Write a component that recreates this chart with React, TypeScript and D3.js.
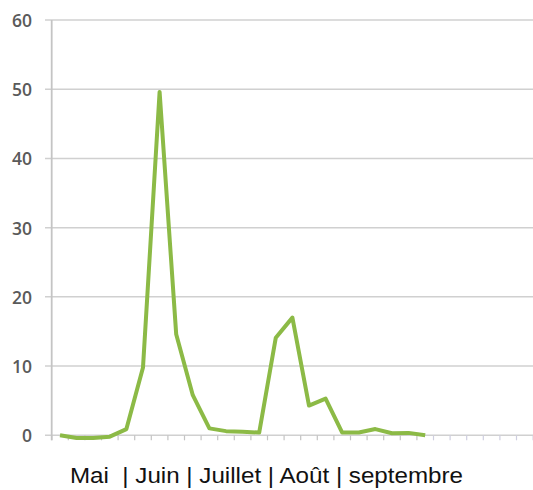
import { useEffect, useRef } from 'react';
import * as d3 from 'd3';

const width = 533;
const height = 490;

// one slot per week-ish category; the axis runs on past the data
const slotCount = 30;
const values = [
  0, -0.4, -0.4, -0.2, 0.9, 9.8, 49.6, 14.6, 5.8, 1.0, 0.6, 0.5, 0.4,
  14.1, 17.0, 4.3, 5.3, 0.4, 0.4, 0.9, 0.3, 0.35, 0,
];
const yTicks = [0, 10, 20, 30, 40, 50, 60];
const monthLabel = 'Mai  | Juin | Juillet | Août | septembre';

export default function App() {
  const svgRef = useRef<SVGSVGElement>(null);

  useEffect(() => {
    if (!svgRef.current) return;
    const svg = d3.select(svgRef.current);
    svg.selectAll('*').remove();

    const left = 51.7;
    const step = 16.6;
    const x = d3.scaleBand<number>()
      .domain(d3.range(slotCount))
      .range([left, left + step * slotCount]);
    const y = d3.scaleLinear().domain([0, 60]).range([435.3, 20]);

    // gridlines
    svg.append('g')
      .selectAll('line')
      .data(yTicks)
      .join('line')
      .attr('x1', 45).attr('x2', width)
      .attr('y1', d => y(d)).attr('y2', d => y(d))
      .attr('stroke', '#d0d0d0').attr('stroke-width', 1.5);

    // vertical axis
    svg.append('line')
      .attr('x1', left).attr('x2', left)
      .attr('y1', y(60)).attr('y2', y(0) + 5)
      .attr('stroke', '#c4c4c4').attr('stroke-width', 1.8);

    // category ticks
    svg.append('g')
      .selectAll('line')
      .data(d3.range(slotCount + 1))
      .join('line')
      .attr('x1', i => left + x.step() * i).attr('x2', i => left + x.step() * i)
      .attr('y1', y(0)).attr('y2', y(0) + 5)
      .attr('stroke', (i: number) => (i > 22 ? '#cfcfe0' : '#c4c4c4'))
      .attr('stroke-width', 1.2);

    // y labels
    svg.append('g')
      .selectAll('text')
      .data(yTicks)
      .join('text')
      .attr('x', 32).attr('y', d => y(d))
      .attr('text-anchor', 'end').attr('dominant-baseline', 'central')
      .attr('font-family', '"Open Sans", sans-serif').attr('font-size', 17.5)
      .attr('font-weight', 600)
      .attr('fill', '#5a5a5a')
      .text(d => d);

    // series
    const line = d3.line<number>()
      .x((_, i) => (x(i) ?? 0) + x.bandwidth() / 2)
      .y(d => y(d));

    svg.append('path').datum(values)
      .attr('fill', 'none').attr('stroke', '#8cba46')
      .attr('stroke-width', 4).attr('stroke-linejoin', 'round')
      .attr('d', line);

    svg.append('text')
      .attr('x', 70).attr('y', 483)
      .attr('font-family', '"Liberation Sans", Arial, sans-serif')
      .attr('font-size', 21.5).attr('fill', '#111')
      .attr('textLength', 393).attr('lengthAdjust', 'spacingAndGlyphs')
      .style('white-space', 'pre')
      .text(monthLabel);
  }, []);

  return (
    <svg
      ref={svgRef}
      width={width}
      height={height}
      style={{ position: 'absolute', left: 0, top: 0, background: '#fff' }}
    />
  );
}
